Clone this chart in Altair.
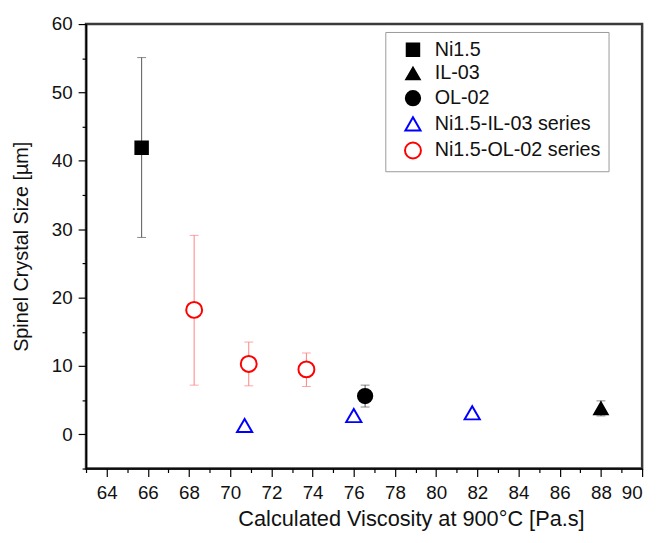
import altair as alt
import pandas as pd

# ---- data ----
series = ["Ni1.5", "Ni1.5-OL-02 series", "Ni1.5-OL-02 series", "Ni1.5-OL-02 series",
          "Ni1.5-IL-03 series", "Ni1.5-IL-03 series", "Ni1.5-IL-03 series",
          "OL-02", "IL-03"]
viscosity = [65.7, 68.25, 70.9, 73.7, 70.7, 76.0, 81.75, 76.55, 88.0]
crystal_size = [41.9, 18.2, 10.3, 9.5, 1.3, 2.75, 3.15, 5.6, 3.8]
err_low = [28.8, 7.2, 7.1, 7.0, None, None, None, 4.0, 2.7]
err_high = [55.1, 29.1, 13.5, 11.9, None, None, None, 7.2, 4.9]

legend_order = ["Ni1.5", "IL-03", "OL-02", "Ni1.5-IL-03 series", "Ni1.5-OL-02 series"]
shapes = ["square", "triangle-up", "circle", "triangle-up", "circle"]
strokes = ["black", "black", "black", "#0000ff", "#ff0000"]
fills = ["black", "black", "black", "white", "white"]
sizes = [160, 260, 170, 270, 150]
err_colors = {"Ni1.5": "#555555", "OL-02": "#555555", "IL-03": "#555555",
              "Ni1.5-OL-02 series": "#ff8080", "Ni1.5-IL-03 series": "#8080ff"}

x_major = list(range(64, 91, 2))
x_minor = list(range(63, 91, 2))
y_major = list(range(0, 61, 10))
y_minor = list(range(-5, 60, 10))

df = pd.DataFrame({"series": series, "v": viscosity, "s": crystal_size,
                   "lo": err_low, "hi": err_high})
df["ecol"] = df["series"].map(err_colors)
edf = df.dropna(subset=["lo", "hi"])

FONT = "Liberation Sans"
xscale = alt.Scale(domain=[63, 90], nice=False, zero=False)
yscale = alt.Scale(domain=[-5, 60], nice=False, zero=False)

base_err = alt.Chart(edf)
rules = base_err.mark_rule(strokeWidth=1).encode(
    x=alt.X("v:Q", scale=xscale, axis=None),
    y=alt.Y("lo:Q", scale=yscale, axis=None),
    y2="hi:Q",
    color=alt.Color("ecol:N", scale=None),
)
cap_hi = base_err.mark_tick(orient="horizontal", size=9, thickness=1).encode(
    x=alt.X("v:Q", scale=xscale, axis=None),
    y=alt.Y("hi:Q", scale=yscale, axis=None),
    color=alt.Color("ecol:N", scale=None),
)
cap_lo = base_err.mark_tick(orient="horizontal", size=9, thickness=1).encode(
    x=alt.X("v:Q", scale=xscale, axis=None),
    y=alt.Y("lo:Q", scale=yscale, axis=None),
    color=alt.Color("ecol:N", scale=None),
)

legend = alt.Legend(
    title=None, orient="none", legendX=303, legendY=8,
    strokeColor="#999999", fillColor="white", padding=8,
    labelFontSize=20, labelFont=FONT, labelColor="#111111", labelLimit=400,
    symbolStrokeWidth=2, rowPadding=3, labelOffset=12, symbolOffset=10,
    labelExpr="datum.label + '\u00a0\u00a0\u00a0'",
)

points = alt.Chart(df).mark_point(filled=False, strokeWidth=2, opacity=1).encode(
    x=alt.X("v:Q", scale=xscale,
            axis=alt.Axis(values=x_major, title="Calculated Viscosity at 900°C [Pa.s]",
                          format="d", orient="bottom", titleFontSize=22, titleX=329,
                          titleAlign="center", titlePadding=7, labelPadding=7)),
    y=alt.Y("s:Q", scale=yscale,
            axis=alt.Axis(values=y_major, title="Spinel Crystal Size [µm]",
                          format="d", orient="left", titlePadding=20)),
    shape=alt.Shape("series:N", scale=alt.Scale(domain=legend_order, range=shapes), legend=legend),
    stroke=alt.Stroke("series:N", scale=alt.Scale(domain=legend_order, range=strokes), legend=legend),
    fill=alt.Fill("series:N", scale=alt.Scale(domain=legend_order, range=fills), legend=legend),
    size=alt.Size("series:N", scale=alt.Scale(domain=legend_order, range=sizes), legend=legend),
)

minor = alt.Chart(df).mark_point(opacity=0).encode(
    x=alt.X("v:Q", scale=xscale,
            axis=alt.Axis(values=x_minor, labels=False, title=None, tickSize=4,
                          domain=False, grid=False, orient="bottom")),
    y=alt.Y("s:Q", scale=yscale,
            axis=alt.Axis(values=y_minor, labels=False, title=None, tickSize=4,
                          domain=False, grid=False, orient="left")),
)

chart = alt.layer(rules, cap_hi, cap_lo, points, minor).resolve_axis(
    x="independent", y="independent"
).properties(
    width=563, height=450,
    padding={"left": 79, "top": 13, "right": 10, "bottom": 64},
    autosize=alt.AutoSizeParams(type="none"),
).configure_view(
    stroke="#3a3a3a", strokeWidth=2.5
).configure_axis(
    grid=False, domainColor="black", domainWidth=1.5, tickColor="black", tickWidth=1.2,
    tickSize=8, labelFont=FONT, labelFontSize=19, labelColor="#111111", labelPadding=6,
    titleFont=FONT, titleFontSize=20, titleFontWeight="normal", titleColor="#111111",
    titlePadding=10,
)

chart.save("out.html", embed_options={"renderer": "svg", "actions": False})
